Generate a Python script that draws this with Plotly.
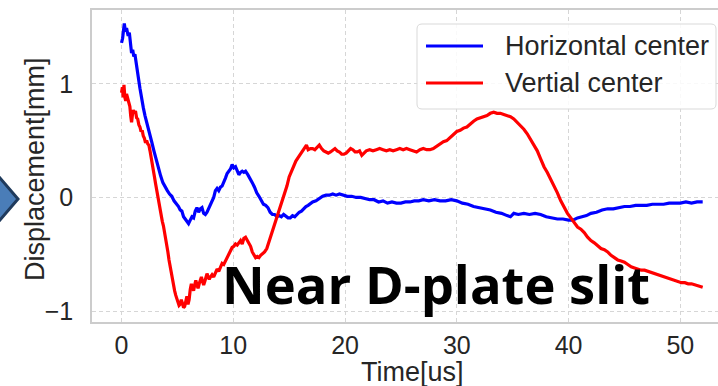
import plotly.graph_objects as go

# Beam centre displacement versus time
t_h = [0.0, 0.1, 0.25, 0.35, 0.45, 0.6, 0.7, 0.8, 0.9, 1.0, 1.1, 1.2, 1.35, 1.5, 1.65, 1.8, 1.95, 2.1,
       2.3, 2.5, 2.7, 2.9, 3.1, 3.3, 3.5, 3.7, 3.9, 4.1, 4.3, 4.5, 4.7, 4.9, 5.1, 5.25, 5.4, 5.55, 5.7,
       5.85, 6.0, 6.15, 6.3, 6.45, 6.6, 6.75, 6.9, 7.05, 7.2, 7.35, 7.5, 7.65, 7.8, 7.95, 8.1, 8.25,
       8.4, 8.55, 8.7, 8.85, 9.0, 9.15, 9.3, 9.45, 9.6, 9.75, 9.9, 10.05, 10.2, 10.35, 10.5, 10.65,
       10.8, 10.95, 11.1, 11.3, 11.5, 11.7, 11.9, 12.1, 12.3, 12.5, 12.7, 12.9, 13.1, 13.3, 13.5, 13.7,
       13.9, 14.1, 14.3, 14.5, 14.7, 14.9, 15.1, 15.3, 15.5, 15.7, 15.9, 16.1, 16.3, 16.5, 16.7, 16.9,
       17.1, 17.4, 17.7, 18.0, 18.3, 18.6, 18.9, 19.2, 19.5, 19.8, 20.2, 20.6, 21.0, 21.4, 21.8, 22.2,
       22.6, 23.0, 23.4, 23.8, 24.2, 24.6, 25.0, 25.4, 25.8, 26.2, 26.6, 27.0, 27.5, 28.0, 28.5, 29.0,
       29.5, 30.0, 30.5, 31.0, 31.5, 32.0, 32.5, 33.0, 33.5, 34.0, 34.5, 34.8, 35.1, 35.5, 36.0, 36.5,
       37.0, 37.5, 38.0, 38.5, 39.0, 39.5, 40.0, 40.4, 40.8, 41.2, 41.6, 42.0, 42.5, 43.0, 43.5, 44.0,
       44.5, 45.0, 45.5, 46.0, 46.5, 47.0, 47.5, 48.0, 48.5, 49.0, 49.5, 50.0, 50.5, 51.0, 51.5, 52.0]
horizontal = [1.36, 1.40, 1.53, 1.46, 1.49, 1.42, 1.45, 1.33, 1.27, 1.30, 1.24, 1.26, 1.14, 1.06, 0.96,
              0.85, 0.79, 0.72, 0.65, 0.57, 0.49, 0.41, 0.33, 0.26, 0.19, 0.13, 0.09, 0.06, 0.03, 0.01,
              -0.03, -0.05, -0.08, -0.11, -0.12, -0.17, -0.19, -0.21, -0.23, -0.20, -0.17, -0.18, -0.12,
              -0.09, -0.13, -0.10, -0.09, -0.14, -0.15, -0.13, -0.10, -0.07, -0.03, 0.00, 0.06, 0.08,
              0.06, 0.09, 0.10, 0.13, 0.17, 0.21, 0.23, 0.25, 0.29, 0.26, 0.27, 0.23, 0.20, 0.22, 0.23,
              0.22, 0.23, 0.20, 0.17, 0.13, 0.09, 0.04, 0.01, -0.02, -0.06, -0.07, -0.09, -0.13, -0.15,
              -0.15, -0.17, -0.16, -0.17, -0.15, -0.17, -0.18, -0.18, -0.16, -0.17, -0.15, -0.13, -0.12,
              -0.10, -0.08, -0.07, -0.05, -0.04, -0.03, -0.01, 0.01, 0.02, 0.02, 0.03, 0.02, 0.03, 0.02,
              0.01, 0.01, 0.00, 0.00, -0.01, -0.02, -0.02, -0.04, -0.03, -0.05, -0.04, -0.05, -0.05,
              -0.04, -0.04, -0.03, -0.03, -0.02, -0.03, -0.02, -0.03, -0.03, -0.02, -0.03, -0.05, -0.06,
              -0.08, -0.09, -0.10, -0.11, -0.13, -0.14, -0.16, -0.17, -0.14, -0.15, -0.14, -0.15, -0.14,
              -0.15, -0.17, -0.18, -0.19, -0.19, -0.20, -0.20, -0.18, -0.17, -0.16, -0.14, -0.13, -0.11,
              -0.10, -0.10, -0.09, -0.08, -0.08, -0.07, -0.07, -0.07, -0.06, -0.06, -0.06, -0.05, -0.05,
              -0.05, -0.04, -0.05, -0.04, -0.04]

t_v = [0.0, 0.08, 0.15, 0.22, 0.3, 0.38, 0.45, 0.55, 0.65, 0.75, 0.82, 0.9, 0.98, 1.05, 1.15, 1.25,
       1.35, 1.45, 1.55, 1.65, 1.75, 1.85, 1.95, 2.05, 2.15, 2.25, 2.35, 2.45, 2.55, 2.65, 2.75, 2.85,
       2.95, 3.05, 3.15, 3.25, 3.35, 3.45, 3.55, 3.65, 3.75, 3.85, 3.95, 4.05, 4.15, 4.25, 4.35, 4.45,
       4.55, 4.65, 4.75, 4.85, 4.95, 5.05, 5.15, 5.25, 5.35, 5.45, 5.55, 5.65, 5.75, 5.85, 5.95, 6.05,
       6.15, 6.25, 6.35, 6.45, 6.55, 6.65, 6.75, 6.85, 6.95, 7.05, 7.15, 7.25, 7.35, 7.45, 7.55, 7.65,
       7.75, 7.85, 7.95, 8.1, 8.25, 8.4, 8.55, 8.7, 8.85, 9.0, 9.15, 9.3, 9.45, 9.6, 9.75, 9.9, 10.05,
       10.2, 10.35, 10.5, 10.65, 10.8, 10.95, 11.1, 11.25, 11.4, 11.55, 11.7, 11.85, 12.0, 12.15, 12.3,
       12.45, 12.6, 12.8, 13.0, 13.2, 13.4, 13.6, 13.8, 14.0, 14.2, 14.4, 14.6, 14.8, 15.0, 15.2, 15.4,
       15.6, 15.8, 16.0, 16.2, 16.4, 16.55, 16.7, 16.9, 17.1, 17.3, 17.5, 17.7, 17.9, 18.1, 18.3, 18.5,
       18.7, 18.9, 19.1, 19.3, 19.5, 19.7, 19.9, 20.1, 20.3, 20.5, 20.7, 20.9, 21.1, 21.3, 21.5, 21.7,
       21.9, 22.2, 22.5, 22.8, 23.1, 23.4, 23.7, 24.0, 24.3, 24.6, 24.9, 25.2, 25.5, 25.8, 26.1, 26.4,
       26.7, 27.0, 27.3, 27.6, 27.9, 28.2, 28.5, 28.8, 29.1, 29.4, 29.7, 30.0, 30.3, 30.6, 30.9, 31.2,
       31.5, 31.8, 32.1, 32.4, 32.7, 33.0, 33.3, 33.6, 33.9, 34.2, 34.5, 34.8, 35.1, 35.4, 35.7, 36.0,
       36.3, 36.6, 36.9, 37.2, 37.5, 37.8, 38.1, 38.4, 38.7, 39.0, 39.3, 39.6, 39.9, 40.2, 40.5, 40.8,
       41.1, 41.4, 41.7, 42.0, 42.3, 42.6, 42.9, 43.2, 43.5, 43.8, 44.1, 44.4, 44.7, 45.0, 45.3, 45.6,
       45.9, 46.2, 46.5, 46.8, 47.1, 47.4, 47.7, 48.0, 48.3, 48.6, 48.9, 49.2, 49.5, 49.8, 50.1, 50.4,
       50.7, 51.0, 51.3, 51.6, 52.0]
vertical = [0.92, 0.97, 0.88, 0.99, 0.88, 0.85, 0.91, 0.88, 0.84, 0.80, 0.72, 0.66, 0.73, 0.77, 0.74,
            0.76, 0.70, 0.69, 0.64, 0.62, 0.58, 0.59, 0.54, 0.52, 0.48, 0.50, 0.47, 0.46, 0.41, 0.36,
            0.30, 0.24, 0.18, 0.12, 0.06, 0.00, -0.06, -0.12, -0.17, -0.21, -0.25, -0.30, -0.35, -0.41,
            -0.48, -0.55, -0.61, -0.67, -0.71, -0.77, -0.82, -0.86, -0.89, -0.92, -0.95, -0.94, -0.90,
            -0.93, -0.97, -0.96, -0.90, -0.87, -0.94, -0.90, -0.81, -0.76, -0.80, -0.82, -0.77, -0.73,
            -0.77, -0.80, -0.76, -0.72, -0.70, -0.74, -0.77, -0.74, -0.69, -0.67, -0.70, -0.72, -0.70,
            -0.68, -0.70, -0.66, -0.63, -0.65, -0.61, -0.58, -0.59, -0.56, -0.53, -0.49, -0.46, -0.44,
            -0.43, -0.41, -0.42, -0.40, -0.38, -0.41, -0.36, -0.35, -0.38, -0.40, -0.43, -0.48, -0.51,
            -0.53, -0.52, -0.53, -0.51, -0.50, -0.48, -0.45, -0.39, -0.33, -0.27, -0.20, -0.14, -0.08,
            -0.02, 0.03, 0.10, 0.18, 0.23, 0.28, 0.32, 0.35, 0.38, 0.42, 0.45, 0.46, 0.42, 0.43, 0.43,
            0.42, 0.44, 0.46, 0.43, 0.41, 0.40, 0.39, 0.40, 0.42, 0.43, 0.41, 0.40, 0.38, 0.38, 0.39,
            0.41, 0.43, 0.42, 0.40, 0.40, 0.41, 0.37, 0.39, 0.41, 0.42, 0.41, 0.42, 0.43, 0.42, 0.41,
            0.42, 0.41, 0.42, 0.43, 0.42, 0.43, 0.42, 0.41, 0.40, 0.42, 0.43, 0.42, 0.42, 0.43, 0.45,
            0.47, 0.49, 0.50, 0.53, 0.56, 0.58, 0.59, 0.61, 0.62, 0.65, 0.67, 0.69, 0.70, 0.71, 0.72,
            0.74, 0.75, 0.74, 0.74, 0.73, 0.72, 0.71, 0.69, 0.66, 0.63, 0.60, 0.56, 0.51, 0.47, 0.41,
            0.34, 0.27, 0.22, 0.16, 0.11, 0.04, -0.03, -0.09, -0.14, -0.18, -0.22, -0.26, -0.28, -0.31,
            -0.35, -0.38, -0.40, -0.43, -0.45, -0.46, -0.48, -0.51, -0.53, -0.55, -0.56, -0.57, -0.59,
            -0.61, -0.62, -0.63, -0.64, -0.64, -0.65, -0.66, -0.67, -0.68, -0.69, -0.70, -0.71, -0.72,
            -0.73, -0.74, -0.75, -0.75, -0.76, -0.76, -0.77, -0.78, -0.79]

x_ticks = [0, 10, 20, 30, 40, 50]
y_ticks = [-1, 0, 1]
series_names = ["Horizontal center", "Vertial center"]
series_colors = ["#0000ff", "#ff0000"]

W, H = 718, 386
L, R, T, B = 92, 0, 10, 64
PW, PH = W - L - R, H - T - B


def px_x(p):
    return (p - L) / PW


def px_y(p):
    return (H - B - p) / PH


TEXT = "#262626"
GRID = "#d6d6d6"
FRAME = "#cccccc"

fig = go.Figure()
for tt, vals, name, col in [(t_h, horizontal, series_names[0], series_colors[0]),
                            (t_v, vertical, series_names[1], series_colors[1])]:
    fig.add_trace(go.Scatter(x=tt, y=vals, mode="lines", name=name,
                             line=dict(color=col, width=3.2), showlegend=False))

fig.update_layout(
    width=W, height=H,
    margin=dict(l=L, r=R, t=T, b=B, pad=0),
    paper_bgcolor="white", plot_bgcolor="white",
    font=dict(family="Liberation Sans, Arial, sans-serif", color=TEXT, size=25),
    showlegend=False,
    xaxis=dict(range=[-2.64, 53.37], tickvals=x_ticks, showgrid=True, gridcolor=GRID,
               griddash="4px,3px", gridwidth=1, zeroline=False, showline=True, mirror=True,
               linecolor=FRAME, linewidth=1.5, ticks="", ticklabelstandoff=0,
               tickfont=dict(size=25, color=TEXT)),
    yaxis=dict(range=[-1.096, 1.649], tickvals=y_ticks, showgrid=True, gridcolor=GRID,
               griddash="4px,3px", gridwidth=1, zeroline=False, showline=True, mirror=False,
               linecolor=FRAME, linewidth=1.5, ticks="", ticklabelstandoff=12,
               tickfont=dict(size=25, color=TEXT)),
)

# axis titles
fig.add_annotation(text="Time[us]", xref="paper", yref="paper", x=px_x(412), y=px_y(372),
                   xanchor="center", yanchor="middle", showarrow=False,
                   font=dict(size=27, color=TEXT))
fig.add_annotation(text="Displacement[mm]", xref="paper", yref="paper", x=px_x(35), y=px_y(169),
                   xanchor="center", yanchor="middle", textangle=-90, showarrow=False,
                   font=dict(size=27, color=TEXT))

# legend box with line samples
bx0, by0, bx1, by1, r = 417, 24, 716, 109, 5
box = (f"M {px_x(bx0 + r)},{px_y(by0)} L {px_x(bx1 - r)},{px_y(by0)} "
       f"Q {px_x(bx1)},{px_y(by0)} {px_x(bx1)},{px_y(by0 + r)} "
       f"L {px_x(bx1)},{px_y(by1 - r)} Q {px_x(bx1)},{px_y(by1)} {px_x(bx1 - r)},{px_y(by1)} "
       f"L {px_x(bx0 + r)},{px_y(by1)} Q {px_x(bx0)},{px_y(by1)} {px_x(bx0)},{px_y(by1 - r)} "
       f"L {px_x(bx0)},{px_y(by0 + r)} Q {px_x(bx0)},{px_y(by0)} {px_x(bx0 + r)},{px_y(by0)} Z")
fig.add_shape(type="path", xref="paper", yref="paper", path=box,
              fillcolor="rgba(255,255,255,0.85)", line=dict(color="#d9d9d9", width=1), layer="above")
for i, (name, col) in enumerate(zip(series_names, series_colors)):
    yy = 46 + i * 37
    fig.add_shape(type="line", xref="paper", yref="paper", x0=px_x(426), x1=px_x(483),
                  y0=px_y(yy), y1=px_y(yy), line=dict(color=col, width=3.2), layer="above")
    fig.add_annotation(text=name, xref="paper", yref="paper", x=px_x(503), y=px_y(yy),
                       xanchor="left", yanchor="middle", showarrow=False,
                       font=dict(size=27, color=TEXT))

# caption inside the plot
fig.add_annotation(text="<b>Near D-plate slit</b>", xref="paper", yref="paper",
                   x=px_x(435.5), y=px_y(283), xanchor="center", yanchor="middle",
                   showarrow=False, font=dict(family="Open Sans, sans-serif", size=52.5, color="black"))

# pointer marker at the left edge
pts = [(-3, 174.5), (18, 199), (-3, 223.5), (-24, 199)]
path = "M " + " L ".join(f"{px_x(a)},{px_y(b)}" for a, b in pts) + " Z"
fig.add_shape(type="path", xref="paper", yref="paper", path=path,
              fillcolor="#4a7db8", line=dict(color="#1f3a5c", width=3), layer="above")

fig.write_html("out.html")
